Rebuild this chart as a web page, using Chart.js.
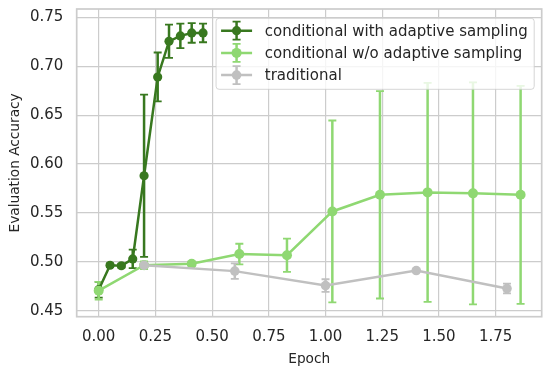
<!DOCTYPE html>
<html>
<head>
<meta charset="utf-8">
<script src="https://cdn.jsdelivr.net/npm/chart.js@4.4.1/dist/chart.umd.min.js"></script>
<style>
  html, body { margin: 0; padding: 0; background: #fff; }
  #wrap { width: 551px; height: 375px; }
</style>
</head>
<body>
<div id="wrap"><canvas id="accChart" width="551" height="375"></canvas></div>
<script>
// --- Values ---
const seriesLabels = [
    'conditional with adaptive sampling',
    'conditional w/o adaptive sampling',
    'traditional'
];

const adaptiveEpochs = [0, 0.05, 0.10, 0.15, 0.20, 0.26, 0.31, 0.36, 0.41, 0.46];
const adaptiveAcc    = [0.4715, 0.4965, 0.496, 0.503, 0.588, 0.689, 0.7255, 0.731, 0.734, 0.734];
const adaptiveErr    = [0.008, 0.002, 0.002, 0.0095, 0.083, 0.025, 0.017, 0.0125, 0.010, 0.0095];

const noAdaptEpochs = [0, 0.20, 0.41, 0.62, 0.83, 1.03, 1.24, 1.45, 1.65, 1.86];
const noAdaptAcc    = [0.4705, 0.4965, 0.498, 0.508, 0.5068, 0.5515, 0.5685, 0.571, 0.570, 0.5685];
const noAdaptErr    = [0.009, 0.004, 0.002, 0.0105, 0.017, 0.093, 0.106, 0.112, 0.1135, 0.1115];

const tradEpochs = [0.2, 0.6, 1.0, 1.4, 1.8];
const tradAcc    = [0.4965, 0.4905, 0.4757, 0.4911, 0.4727];
const tradErr    = [0.002, 0.008, 0.0065, 0.001, 0.005];

const xTicks = [0, 0.25, 0.5, 0.75, 1.0, 1.25, 1.5, 1.75];
const yTicks = [0.45, 0.50, 0.55, 0.60, 0.65, 0.70, 0.75];

// --- Style ---
const FONT = "'DejaVu Sans', sans-serif";
const TEXT = '#262626';
const GRID = '#cccccc';
const colors = ['#38781f', '#8fd872', '#c0c0c0'];
const radii = [4.6, 5, 4.8];

function toPoints(xs, ys) {
    return xs.map((x, i) => ({ x: x, y: ys[i] }));
}

// --- Error bars, drawn under all lines (like matplotlib) ---
const errorBars = {
    id: 'errorBars',
    beforeDatasetsDraw(chart) {
        const { ctx, chartArea, scales } = chart;
        ctx.save();
        ctx.beginPath();
        ctx.rect(chartArea.left, chartArea.top, chartArea.width, chartArea.height);
        ctx.clip();
        chart.data.datasets.forEach(ds => {
            ctx.strokeStyle = ds.borderColor;
            ds.data.forEach((p, i) => {
                const e = ds.errors[i];
                const x = scales.x.getPixelForValue(p.x);
                const yTop = scales.y.getPixelForValue(p.y + e);
                const yBot = scales.y.getPixelForValue(p.y - e);
                ctx.lineWidth = 2.5;
                ctx.beginPath();
                ctx.moveTo(x, yTop);
                ctx.lineTo(x, yBot);
                ctx.stroke();
                ctx.lineWidth = 1.8;
                ctx.beginPath();
                ctx.moveTo(x - 4, yTop); ctx.lineTo(x + 4, yTop);
                ctx.moveTo(x - 4, yBot); ctx.lineTo(x + 4, yBot);
                ctx.stroke();
            });
        });
        ctx.restore();
    }
};

// --- Axes frame (all four spines) ---
const frame = {
    id: 'frame',
    afterDatasetsDraw(chart) {
        const { ctx, chartArea: a } = chart;
        ctx.save();
        ctx.strokeStyle = GRID;
        ctx.lineWidth = 1.7;
        ctx.strokeRect(a.left, a.top, a.width, a.height);
        ctx.restore();
    }
};

// --- Legend with errorbar handles, top right ---
const legendBox = {
    id: 'legendBox',
    afterDraw(chart) {
        const { ctx, chartArea: a } = chart;
        ctx.save();
        ctx.font = '15px ' + FONT;
        const textW = Math.max(...seriesLabels.map(t => ctx.measureText(t).width));
        const right = a.right - 7.5;
        const top = a.top + 9.3;
        const w = 5 + 31 + 12.7 + textW + 6.5;
        const left = right - w;
        const h = 71;

        ctx.fillStyle = 'rgba(255,255,255,0.8)';
        ctx.strokeStyle = 'rgba(204,204,204,0.8)';
        ctx.lineWidth = 1;
        ctx.beginPath();
        ctx.roundRect(left, top, w, h, 3);
        ctx.fill();
        ctx.stroke();

        seriesLabels.forEach((label, i) => {
            const cy = top + 12.4 + i * 22.2;
            const x0 = left + 5, x1 = x0 + 31, cx = (x0 + x1) / 2;
            ctx.strokeStyle = colors[i];
            ctx.fillStyle = colors[i];
            ctx.lineWidth = 2.5;
            ctx.beginPath();
            ctx.moveTo(x0, cy); ctx.lineTo(x1, cy);
            ctx.moveTo(cx, cy - 9); ctx.lineTo(cx, cy + 9);
            ctx.stroke();
            ctx.lineWidth = 1.8;
            ctx.beginPath();
            ctx.moveTo(cx - 4, cy - 9); ctx.lineTo(cx + 4, cy - 9);
            ctx.moveTo(cx - 4, cy + 9); ctx.lineTo(cx + 4, cy + 9);
            ctx.stroke();
            ctx.beginPath();
            ctx.arc(cx, cy, radii[i], 0, Math.PI * 2);
            ctx.fill();

            ctx.fillStyle = TEXT;
            ctx.textBaseline = 'middle';
            ctx.textAlign = 'left';
            ctx.fillText(label, x1 + 12.7, cy + 1);
        });
        ctx.restore();
    }
};

function makeDataset(i, xs, ys, errs, order) {
    return {
        label: seriesLabels[i],
        data: toPoints(xs, ys),
        errors: errs,
        borderColor: colors[i],
        backgroundColor: colors[i],
        borderWidth: 2.5,
        pointRadius: radii[i],
        pointBorderWidth: 0,
        pointBackgroundColor: colors[i],
        tension: 0,
        fill: false,
        order: order
    };
}

const ctx = document.getElementById('accChart').getContext('2d');
const chart = new Chart(ctx, {
    type: 'line',
    data: {
        datasets: [
            makeDataset(0, adaptiveEpochs, adaptiveAcc, adaptiveErr, 3),
            makeDataset(1, noAdaptEpochs, noAdaptAcc, noAdaptErr, 2),
            makeDataset(2, tradEpochs, tradAcc, tradErr, 1)
        ]
    },
    options: {
        responsive: false,
        devicePixelRatio: 1,
        animation: false,
        layout: { padding: { top: 9, right: 9.3, left: 0, bottom: 0 } },
        plugins: {
            legend: { display: false },
            tooltip: { enabled: false }
        },
        scales: {
            x: {
                type: 'linear',
                min: -0.097,
                max: 1.953,
                afterBuildTicks: s => { s.ticks = xTicks.map(v => ({ value: v })); },
                afterFit: s => { s.height = 58.3; s.paddingLeft = 0; s.paddingRight = 0; },
                grid: { color: GRID, lineWidth: 1.2, drawTicks: false },
                border: { display: false },
                ticks: {
                    color: TEXT,
                    font: { family: FONT, size: 15 },
                    padding: 11.5,
                    maxRotation: 0,
                    autoSkip: false,
                    callback: v => Number(v).toFixed(2)
                },
                title: {
                    display: true,
                    text: 'Epoch',
                    color: TEXT,
                    font: { family: FONT, size: 13.7 },
                    padding: { top: 0, bottom: 7.5 }
                }
            },
            y: {
                type: 'linear',
                min: 0.4439,
                max: 0.7585,
                afterBuildTicks: s => { s.ticks = yTicks.map(v => ({ value: v })); },
                afterFit: s => { s.width = 76.7; s.paddingTop = 0; s.paddingBottom = 0; },
                grid: { color: GRID, lineWidth: 1.2, drawTicks: false },
                border: { display: false },
                ticks: {
                    color: TEXT,
                    font: { family: FONT, size: 15 },
                    padding: 13.4,
                    autoSkip: false,
                    callback: v => Number(v).toFixed(2)
                },
                title: {
                    display: true,
                    text: 'Evaluation Accuracy',
                    color: TEXT,
                    font: { family: FONT, size: 13.7 },
                    padding: { top: 7, bottom: 0 }
                }
            }
        }
    },
    plugins: [errorBars, frame, legendBox]
});
</script>
</body>
</html>
